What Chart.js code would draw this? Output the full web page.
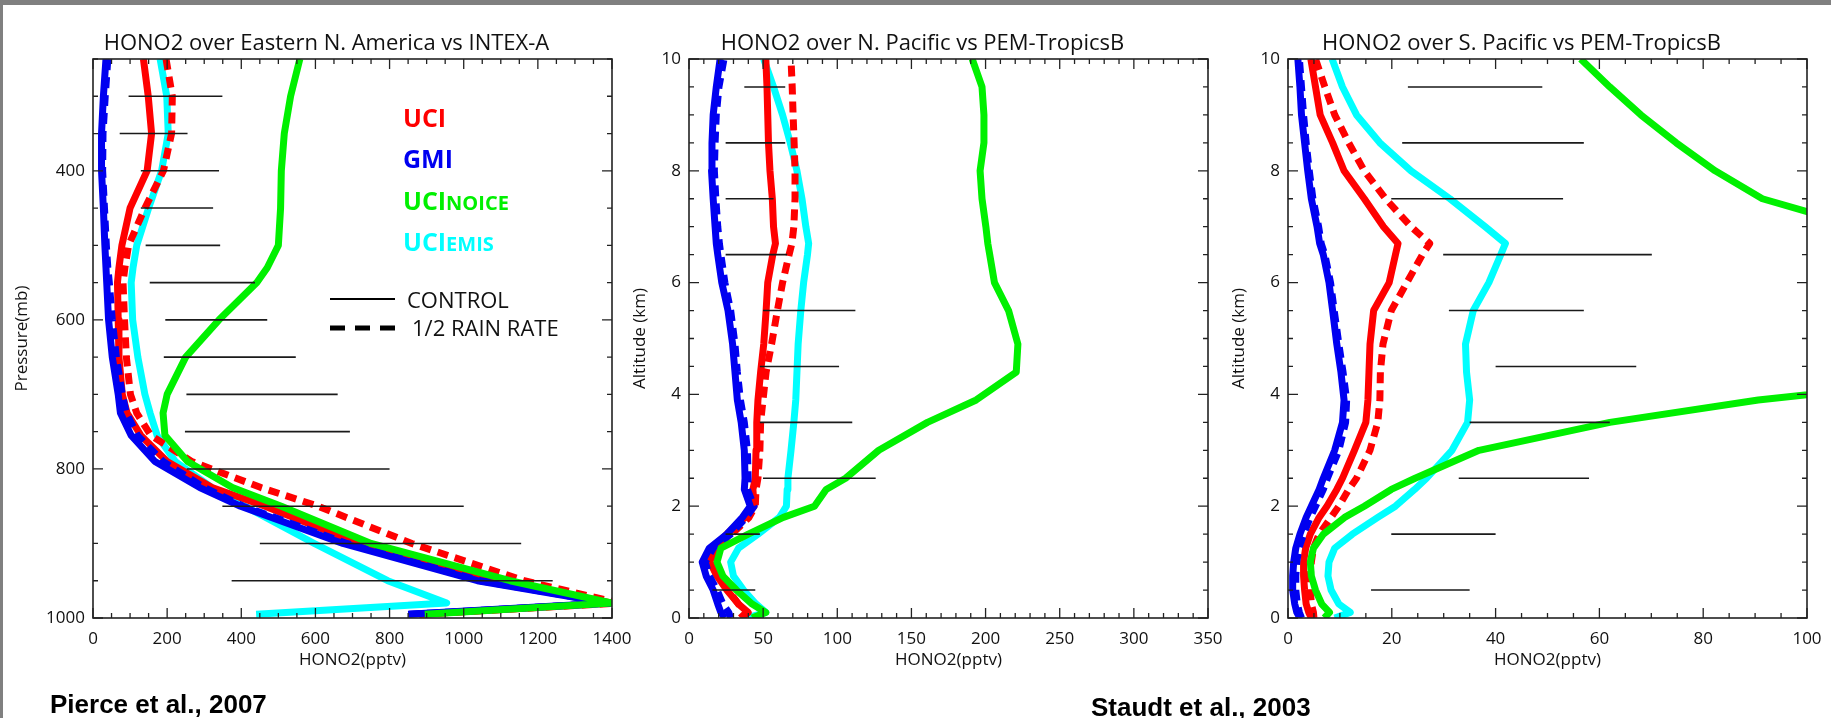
<!DOCTYPE html>
<html>
<head>
<meta charset="utf-8">
<script src="https://cdn.jsdelivr.net/npm/chart.js@4.4.1/dist/chart.umd.min.js"></script>
<style>
  body { margin: 0; width: 1831px; height: 718px; background: #fff; position: relative; overflow: hidden; }
  .edge-top { position: absolute; left: 0; top: 0; width: 1831px; height: 5px; background: #808080; }
  .edge-left { position: absolute; left: 0; top: 0; width: 3px; height: 718px; background: #808080; }
  canvas { position: absolute; top: 0; }
  .cite { position: absolute; font: bold 26px "Liberation Sans", Arial, sans-serif; line-height: 26px; color: #000; white-space: nowrap; }
</style>
</head>
<body>
<div class="edge-top"></div>
<div class="edge-left"></div>
<canvas id="naChart" width="634" height="718" style="left:3px"></canvas>
<canvas id="npChart" width="634" height="718" style="left:599px"></canvas>
<canvas id="spChart" width="634" height="718" style="left:1198px"></canvas>
<div class="cite" style="left:50px; top:691px">Pierce et al., 2007</div>
<div class="cite" style="left:1091px; top:694px">Staudt et al., 2003</div>
<script>
// ---- Eastern N. America vs INTEX-A (pressure, mb) ----
const naLevels  = [250, 300, 350, 400, 450, 500, 530, 550, 600, 650, 700, 725, 755, 790, 825, 850, 900, 950, 980, 995];
const naUci     = [136, 149, 158, 146, 100, 78, 70, 66, 68, 70, 79, 92, 129, 200, 321, 464, 718, 1092, 1400, 880];
const naUciHalf = [197, 214, 212, 190, 140, 96, 86, 81, 85, 90, 101, 118, 156, 266, 453, 607, 860, 1163, 1420, 880];
const naGmi     = [35, 28, 23, 23, 28, 32, 35, 37, 42, 52, 68, 74, 103, 167, 288, 398, 674, 1037, 1390, 850];
const naGmiHalf = [40, 33, 27, 26, 31, 36, 40, 44, 52, 63, 79, 90, 120, 189, 300, 405, 685, 1045, 1395, 850];
const naNoice   = [558, 533, 516, 508, 506, 500, 470, 442, 340, 250, 200, 189, 194, 255, 376, 508, 750, 1125, 1400, 895];
const naEmis    = [181, 199, 203, 185, 150, 118, 108, 103, 107, 121, 140, 154, 173, 222, 321, 409, 597, 795, 954, 440];
const naObsLevels = [300, 350, 400, 450, 500, 550, 600, 650, 700, 750, 800, 850, 900, 950];
const naObsLow    = [96, 72, 129, 129, 142, 153, 195, 191, 252, 248, 253, 349, 450, 374];
const naObsHigh   = [349, 255, 340, 324, 343, 437, 470, 547, 660, 693, 800, 1000, 1155, 1240];
const naXTicks = [0, 200, 400, 600, 800, 1000, 1200, 1400];
const naYTicks = [400, 600, 800, 1000];

// ---- altitude levels (km) shared by both Pacific panels ----
const altLevels = [0, 0.1, 0.25, 0.5, 0.75, 1.0, 1.25, 1.5, 1.8, 2.0, 2.3, 2.5, 3.0, 3.5, 3.9, 4.4, 4.9, 5.5, 6.0, 6.5, 6.7, 7.0, 7.5, 8.0, 8.5, 9.0, 9.5, 10];
const altTicks = [0, 2, 4, 6, 8, 10];

// ---- N. Pacific vs PEM-TropicsB ----
const npUci     = [35.2, 39.9, 33.4, 25.5, 18.9, 14.2, 16.3, 25.5, 37.8, 43.9, 43.1, 44.7, 45.2, 45.7, 46.5, 48.3, 50.4, 52, 53.1, 56.5, 58.3, 57, 56.2, 54.6, 53.6, 53.1, 52.6, 51.8];
const npUciHalf = [34.7, 38.6, 33.4, 26.3, 18.9, 15, 17.6, 28.9, 40.5, 44.7, 45.2, 46.5, 47.8, 48.3, 49.9, 52, 55.7, 59.6, 63.1, 67.5, 69.4, 70.7, 71.5, 71.5, 70.9, 70.2, 69.6, 68.8];
const npGmi     = [24, 21.5, 19.4, 16.3, 11.6, 8.9, 13.7, 25.5, 36, 41.3, 37.3, 37.8, 37.3, 35.2, 32.6, 31, 29.4, 26.3, 22.1, 19.4, 18.4, 17.6, 16.3, 15.2, 15.5, 16.3, 18.4, 21];
const npGmiHalf = [28.1, 26.8, 22.9, 18.9, 13.7, 11, 16.3, 28.1, 38.6, 43.9, 39.4, 39.9, 39.4, 37.3, 34.7, 32.6, 31, 28.1, 24.2, 21.5, 20.5, 19.4, 18.1, 17.1, 17.6, 18.4, 20.2, 23.6];
const npNoice   = [42.6, 51.8, 42.6, 32, 22.9, 18.9, 21.5, 40, 63.6, 84.6, 92.5, 105.6, 128, 160.8, 193.7, 220.7, 221.8, 215.5, 206, 202.8, 201.5, 200.2, 197.6, 196.3, 198.9, 198.9, 197.6, 191];
const npEmis    = [38.6, 51.8, 45.2, 36.8, 30, 28.1, 33.4, 46.5, 61, 65.7, 66.2, 66.7, 68.8, 70.7, 72, 72.8, 73.6, 75.4, 77.3, 79.9, 80.7, 78.8, 76.2, 72.8, 68.3, 63.1, 57, 50.4];
const npObsLevels = [9.5, 8.5, 7.5, 6.5, 5.5, 4.5, 3.5, 2.5, 1.5, 0.5];
const npObsLow    = [37.3, 24.7, 24.7, 24.7, 49.9, 47.8, 47.8, 49.9, 24.7, 15.8];
const npObsHigh   = [64.9, 64.9, 57, 66.2, 112.2, 101.2, 110.1, 125.9, 47.8, 44.7];
const npXTicks = [0, 50, 100, 150, 200, 250, 300, 350];

// ---- S. Pacific vs PEM-TropicsB ----
const spUci     = [4.5, 4, 3.5, 3.2, 3, 3, 3.4, 4.3, 6, 7.5, 9.4, 10.5, 12.8, 15, 15.4, 15.6, 15.8, 16.5, 19.5, 20.7, 21.2, 18.4, 14.7, 10.8, 8.6, 6.2, 5.3, 4.4];
const spUciHalf = [5, 4.9, 4.5, 4.3, 4.3, 4.5, 4.9, 6, 8.3, 9.8, 11.7, 13.2, 15.8, 17.3, 17.7, 17.8, 18.3, 19.9, 22.9, 25.9, 27.3, 23.7, 18.8, 14.7, 11.7, 9, 7.1, 5.3];
const spGmi     = [2.3, 1.7, 1.3, 0.9, 0.9, 1.1, 1.5, 2.3, 3.5, 4.5, 6, 6.8, 9, 10.5, 10.8, 10.2, 9.4, 8.6, 7.9, 6.8, 6.1, 5.6, 4.5, 3.8, 3.2, 2.6, 2.3, 1.9];
const spGmiHalf = [2.6, 2.2, 1.8, 1.5, 1.5, 1.7, 2.1, 3.0, 4.3, 5.3, 6.8, 7.6, 9.8, 11.1, 11.3, 10.6, 9.8, 8.9, 8.2, 7.1, 6.4, 5.9, 4.8, 4.1, 3.5, 3.0, 2.6, 2.2];
const spNoice   = [7, 8, 6.5, 5.3, 4.5, 4.3, 4.9, 6.8, 10.9, 14.7, 19.9, 24.5, 36.8, 62, 90.6, 140, null, null, null, null, null, 110, 91.4, 82.3, 74.8, 68, 62, 56.4];
const spEmis    = [9, 12, 9.8, 8.3, 7.7, 7.9, 9, 12.4, 17.3, 20.7, 24.4, 26.7, 31.6, 34.6, 35, 34.4, 34.2, 35.7, 38.7, 41, 41.9, 38, 31.2, 23.7, 17.7, 13.2, 10.5, 8.5];
const spObsLevels = [9.5, 8.5, 7.5, 6.5, 5.5, 4.5, 3.5, 2.5, 1.5, 0.5];
const spObsLow    = [23.1, 22, 19.9, 29.9, 31, 40, 35, 32.9, 19.9, 16];
const spObsHigh   = [49, 57, 53, 70.1, 57, 67.1, 62, 58, 40, 35];
const spXTicks = [0, 20, 40, 60, 80, 100];

// key text
const keyNames  = ['UCI', 'GMI', 'UCI', 'UCI'];
const keySubs   = ['', '', 'NOICE', 'EMIS'];
const keyColors = ['#ff0000', '#0000f0', '#00f000', '#00ffff'];

const RED = '#ff0000', BLUE = '#0000f0', GREEN = '#00f000', CYAN = '#00ffff';
const FONT = '"Open Sans", sans-serif';

function profile(values, levels) {
    return levels.map((lev, i) => ({x: values[i], y: lev}));
}

// each observed range becomes its own short segment, split by a null point
function ranges(levels, lo, hi) {
    const pts = [];
    levels.forEach((lev, i) => {
        pts.push({x: lo[i], y: lev}, {x: hi[i], y: lev}, {x: null, y: null});
    });
    return pts;
}

function modelSet(label, values, levels, color, dashed) {
    return {
        label: label,
        data: profile(values, levels),
        borderColor: color,
        borderWidth: 7,
        borderDash: dashed ? [11, 7] : [],
        borderJoinStyle: 'round'
    };
}

// first dataset ends up on top
function buildSets(levels, m, obs) {
    return [
        {label: 'obs', data: ranges(obs.levels, obs.lo, obs.hi), borderColor: '#1a1a1a', borderWidth: 1.6},
        modelSet('UCInoice', m.noice, levels, GREEN, false),
        modelSet('GMI', m.gmi, levels, BLUE, false),
        modelSet('GMI half rain', m.gmiHalf, levels, BLUE, true),
        modelSet('UCI', m.uci, levels, RED, false),
        modelSet('UCI half rain', m.uciHalf, levels, RED, true),
        modelSet('UCIemis', m.emis, levels, CYAN, false)
    ];
}

function isMajor(v, step) {
    const r = v / step;
    return Math.abs(r - Math.round(r)) < 1e-6;
}

// box around the plot, inward ticks on all four sides, and the panel title
const framePlugin = {
    id: 'frame',
    afterDraw(chart, args, opts) {
        const {ctx, chartArea: a, scales: {x, y}} = chart;
        ctx.save();
        ctx.strokeStyle = '#222';
        ctx.lineWidth = 1.3;
        ctx.beginPath();
        for (let v = x.min; v <= x.max + 1e-9; v += opts.xMinor) {
            const px = x.getPixelForValue(v);
            const len = isMajor(v, opts.xMajor) ? 10 : 5;
            ctx.moveTo(px, a.bottom); ctx.lineTo(px, a.bottom - len);
            ctx.moveTo(px, a.top); ctx.lineTo(px, a.top + len);
        }
        for (let v = y.min; v <= y.max + 1e-9; v += opts.yMinor) {
            const py = y.getPixelForValue(v);
            const len = isMajor(v, opts.yMajor) ? 10 : 5;
            ctx.moveTo(a.left, py); ctx.lineTo(a.left + len, py);
            ctx.moveTo(a.right, py); ctx.lineTo(a.right - len, py);
        }
        ctx.stroke();
        ctx.lineWidth = 1.6;
        ctx.strokeRect(a.left, a.top, a.right - a.left, a.bottom - a.top);

        ctx.fillStyle = '#111';
        ctx.font = '22px ' + FONT;
        ctx.textAlign = 'center';
        ctx.textBaseline = 'alphabetic';
        ctx.fillText(opts.title, (a.left + a.right) / 2 - 26, a.top - 9);
        ctx.restore();
    }
};

// model colour key and line-style key, first panel only
const keyPlugin = {
    id: 'modelKey',
    afterDraw(chart, args, opts) {
        if (!opts.show) return;
        const {ctx, chartArea: a} = chart;
        const x0 = a.left + 310;
        ctx.save();
        ctx.textAlign = 'left';
        ctx.textBaseline = 'alphabetic';
        keyNames.forEach((name, i) => {
            const base = a.top + 68 + i * 41.3;
            ctx.fillStyle = keyColors[i];
            ctx.font = 'bold 25px ' + FONT;
            ctx.fillText(name, x0, base);
            if (keySubs[i]) {
                const w = ctx.measureText(name).width;
                ctx.font = 'bold 20px ' + FONT;
                ctx.fillText(keySubs[i], x0 + w, base);
            }
        });

        ctx.strokeStyle = '#000';
        ctx.lineWidth = 2;
        ctx.beginPath();
        ctx.moveTo(a.left + 237, a.top + 240);
        ctx.lineTo(a.left + 302, a.top + 240);
        ctx.stroke();
        ctx.lineWidth = 5;
        ctx.setLineDash([15, 10]);
        ctx.beginPath();
        ctx.moveTo(a.left + 237, a.top + 269);
        ctx.lineTo(a.left + 302, a.top + 269);
        ctx.stroke();
        ctx.setLineDash([]);

        ctx.fillStyle = '#111';
        ctx.font = '22px ' + FONT;
        ctx.fillText('CONTROL', a.left + 314, a.top + 249);
        ctx.fillText('1/2 RAIN RATE', a.left + 319, a.top + 277);
        ctx.restore();
    }
};

function makePanel(id, p) {
    return new Chart(document.getElementById(id), {
        type: 'line',
        data: {datasets: p.datasets},
        options: {
            responsive: false,
            animation: false,
            devicePixelRatio: 1,
            layout: {padding: {left: 0, right: 25, top: 59, bottom: 48}},
            elements: {point: {radius: 0}, line: {tension: 0}},
            datasets: {line: {clip: 0, spanGaps: false}},
            plugins: {
                legend: {display: false},
                tooltip: {enabled: false},
                frame: {title: p.title, xMinor: p.xMinor, xMajor: p.xMajor, yMinor: p.yMinor, yMajor: p.yMajor},
                modelKey: {show: !!p.key}
            },
            scales: {
                x: {
                    type: 'linear',
                    min: 0,
                    max: p.xMax,
                    grid: {display: false, drawTicks: false},
                    border: {display: false},
                    ticks: {font: {size: 17}, color: '#111', padding: 11, maxRotation: 0, autoSkip: false, callback: v => String(v)},
                    afterBuildTicks: s => { s.ticks = p.xTicks.map(v => ({value: v})); },
                    afterFit: s => { s.height = 52; s.paddingLeft = 0; s.paddingRight = 0; },
                    title: {display: true, text: 'HONO2(pptv)', font: {size: 17}, color: '#111', padding: 0}
                },
                y: {
                    type: 'linear',
                    min: p.yMin,
                    max: p.yMax,
                    reverse: !!p.reverse,
                    grid: {display: false, drawTicks: false},
                    border: {display: false},
                    ticks: {font: {size: 17}, color: '#111', padding: 8, autoSkip: false, callback: v => String(v)},
                    afterBuildTicks: s => { s.ticks = p.yTicks.map(v => ({value: v})); },
                    afterFit: s => { s.width = 90; s.paddingTop = 0; s.paddingBottom = 0; },
                    title: {display: true, text: p.yTitle, font: {size: 17}, color: '#111', padding: {top: p.yTitlePad, bottom: 0}}
                }
            }
        },
        plugins: [framePlugin, keyPlugin]
    });
}

function drawAll() {
    Chart.defaults.font.family = FONT;
    Chart.defaults.color = '#111';

    makePanel('naChart', {
        title: 'HONO2 over Eastern N. America vs INTEX-A',
        datasets: buildSets(naLevels,
            {uci: naUci, uciHalf: naUciHalf, gmi: naGmi, gmiHalf: naGmiHalf, noice: naNoice, emis: naEmis},
            {levels: naObsLevels, lo: naObsLow, hi: naObsHigh}),
        xMax: 1400, xTicks: naXTicks, xMinor: 50, xMajor: 200,
        yMin: 250, yMax: 1000, yTicks: naYTicks, yMinor: 50, yMajor: 200, reverse: true,
        yTitle: 'Pressure(mb)', yTitlePad: 9,
        key: true
    });

    makePanel('npChart', {
        title: 'HONO2 over N. Pacific vs PEM-TropicsB',
        datasets: buildSets(altLevels,
            {uci: npUci, uciHalf: npUciHalf, gmi: npGmi, gmiHalf: npGmiHalf, noice: npNoice, emis: npEmis},
            {levels: npObsLevels, lo: npObsLow, hi: npObsHigh}),
        xMax: 350, xTicks: npXTicks, xMinor: 10, xMajor: 50,
        yMin: 0, yMax: 10, yTicks: altTicks, yMinor: 0.5, yMajor: 2,
        yTitle: 'Altitude (km)', yTitlePad: 31
    });

    makePanel('spChart', {
        title: 'HONO2 over S. Pacific vs PEM-TropicsB',
        datasets: buildSets(altLevels,
            {uci: spUci, uciHalf: spUciHalf, gmi: spGmi, gmiHalf: spGmiHalf, noice: spNoice, emis: spEmis},
            {levels: spObsLevels, lo: spObsLow, hi: spObsHigh}),
        xMax: 100, xTicks: spXTicks, xMinor: 5, xMajor: 20,
        yMin: 0, yMax: 10, yTicks: altTicks, yMinor: 0.5, yMajor: 2,
        yTitle: 'Altitude (km)', yTitlePad: 31
    });
}

Promise.all([
    document.fonts.load('17px "Open Sans"'),
    document.fonts.load('bold 25px "Open Sans"'),
    document.fonts.load('bold 26px "Liberation Sans"')
]).then(drawAll, drawAll);
</script>
</body>
</html>
